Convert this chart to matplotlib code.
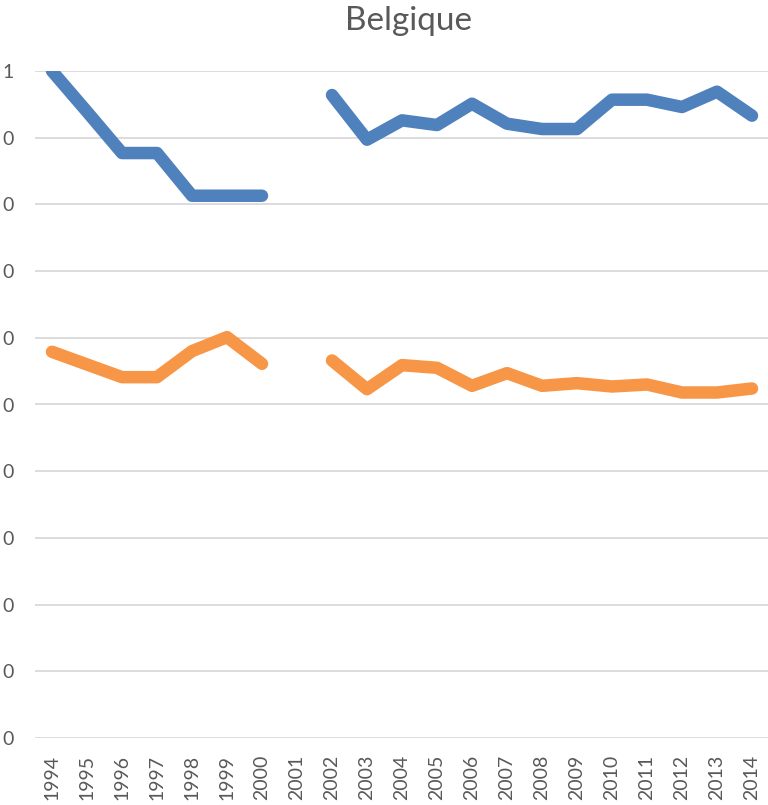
import matplotlib.pyplot as plt
import numpy as np

years = [str(y) for y in range(1994, 2015)]

# 2001 missing in both series
blue = [100, 93.9, 87.7, 87.7, 81.3, 81.3, 81.3, np.nan,
        96.4, 89.7, 92.6, 91.9, 95.1, 92.1, 91.3, 91.3, 95.7, 95.7, 94.6, 96.9, 93.3]
orange = [57.9, 56.0, 54.1, 54.1, 58.0, 60.1, 56.1, np.nan,
          56.6, 52.3, 55.9, 55.5, 52.8, 54.7, 52.8, 53.2, 52.7, 53.0, 51.8, 51.8, 52.4]

# the left edge of the chart is cut off: only the last character of each label shows
yticks = [0, 10, 20, 30, 40, 50, 60, 70, 80, 90, 100]
ytick_labels = ['0', '0', '0', '0', '0', '0', '0', '0', '0', '0', '1']

plt.rcParams['font.family'] = ['Lato', 'DejaVu Sans']

W, H = 768, 805
fig = plt.figure(figsize=(W / 100, H / 100), dpi=100)
ax = fig.add_axes([34.5 / W, 1 - 738 / H, 735 / W, 667 / H])

x = np.arange(len(years))
ax.plot(x, blue, color='#4F81BD', lw=9, solid_capstyle='round', solid_joinstyle='round')
ax.plot(x, orange, color='#F79646', lw=9, solid_capstyle='round', solid_joinstyle='round')

ax.set_xlim(-0.5, len(years) - 0.5)
ax.set_ylim(0, 100)
ax.set_xticks(x, years, rotation=90)
ax.set_yticks(yticks, ytick_labels)
ax.tick_params(axis='both', length=0, colors='#595959', labelsize=14)
ax.tick_params(axis='x', pad=12)
ax.tick_params(axis='y', pad=15)

ax.grid(axis='y', color='#D9D9D9', lw=1.3)
ax.set_axisbelow(True)
for s in ax.spines.values():
    s.set_visible(False)

fig.text(408 / W, 1 - 21 / H, 'Belgique', ha='center', va='center',
         fontsize=24, color='#595959')

fig.savefig('out.png', dpi=100)
